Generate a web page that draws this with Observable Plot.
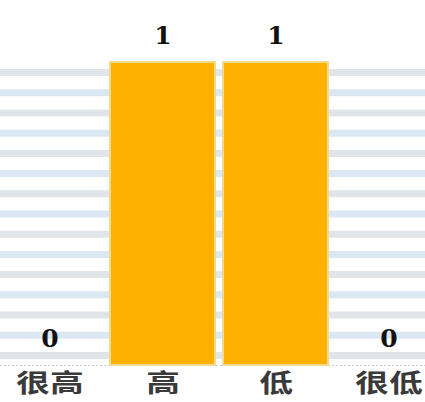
<!DOCTYPE html>
<html>
<head>
<meta charset="utf-8">
<script src="https://cdn.jsdelivr.net/npm/d3@7"></script>
<script src="https://cdn.jsdelivr.net/npm/@observablehq/plot@0.6"></script>
<style>
  html, body { margin: 0; padding: 0; background: #fff; overflow: hidden; }
</style>
</head>
<body>
<div id="chart"></div>
<script>
const categories = ["很高", "高", "低", "很低"];
const values = [0, 1, 1, 0];
const stripeValues = d3.range(0, 15).map(i => (i + 0.5) / 15);

const data = categories.map((c, i) => ({category: c, value: values[i]}));
const stripes = stripeValues.map((v, i) => ({v, i}));

const chart = Plot.plot({
  width: 425,
  height: 402,
  marginTop: 62,
  marginBottom: 37,
  marginLeft: 0,
  marginRight: 0,
  x: {domain: categories, range: [-4, 442], paddingInner: 0.075, paddingOuter: 0, label: null},
  y: {domain: [0, 1], label: null, axis: null},
  style: {background: "#fff", overflow: "hidden"},
  marks: [
    Plot.ruleY(stripes, {y: "v", stroke: d => d.i % 2 ? "#dbe7f2" : "#e1e5e9", strokeWidth: 7}),
    Plot.ruleY([0], {stroke: "#c8ccd2", strokeDasharray: "2,2", strokeWidth: 1}),
    Plot.barY(data, {x: "category", y: "value", fill: "#FFB000", stroke: "#f0dc90", strokeWidth: 2}),
    Plot.text(data, {x: "category", y: "value", text: d => String(d.value), dy: -27,
      fontSize: 25, fontWeight: "bold", fontFamily: "DejaVu Serif", fill: "#111"}),
    Plot.axisX({tickSize: 0, tickPadding: 0, fontSize: 25, fontWeight: "bold",
      fontFamily: "Noto Sans CJK SC", fill: "#3a3a3a", dy: 9, label: null})
  ]
});
document.getElementById("chart").appendChild(chart);
d3.select(chart).selectAll("[aria-label='x-axis tick label'] text").each(function() {
  const t = d3.select(this).attr("transform") || "";
  d3.select(this).attr("transform", t + " scale(1.35,1)");
});
</script>
</body>
</html>
